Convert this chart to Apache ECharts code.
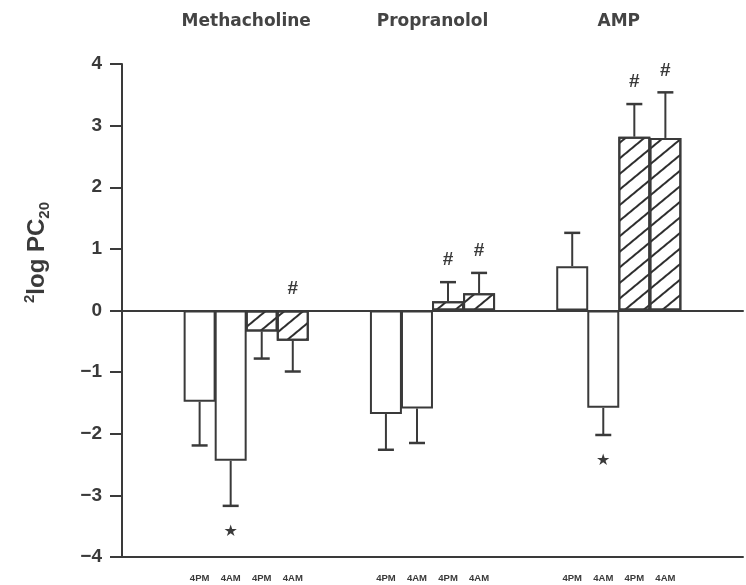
<!DOCTYPE html>
<html>
<head>
<meta charset="utf-8">
<script src="https://cdn.jsdelivr.net/npm/echarts@6/dist/echarts.min.js"></script>
<style>
  html, body { margin: 0; padding: 0; background: #fff; }
  #chart { width: 746px; height: 585px; }
</style>
</head>
<body>
<div id="chart"></div>
<script>
// Challenge agents, group order
const groups = ['Methacholine', 'Propranolol', 'AMP'];
// Time of the challenge for the four bars inside each group
const timeLabels = ['4PM', '4AM', '4PM', '4AM'];

// Mean 2log PC20 per group (open bars, then hatched bars)
const openPM    = [-1.48, -1.68, 0.72];
const openAM    = [-2.44, -1.59, -1.58];
const hatchedPM = [-0.34, 0.15, 2.82];
const hatchedAM = [-0.49, 0.28, 2.80];

// Standard errors
const openPMErr    = [0.71, 0.58, 0.54];
const openAMErr    = [0.73, 0.56, 0.44];
const hatchedPMErr = [0.44, 0.31, 0.53];
const hatchedAMErr = [0.50, 0.33, 0.74];

// Significance markers
const openPMSig    = ['', '', ''];
const openAMSig    = ['\u2605', '', '\u2605'];
const hatchedPMSig = ['', '#', '#'];
const hatchedAMSig = ['#', '#', '#'];

// Y axis ticks
const yTicks = [-4, -3, -2, -1, 0, 1, 2, 3, 4];

const INK = '#3a3a3a';
const FONT = '"Liberation Sans", Arial, sans-serif';
const WIDE_FONT = '"DejaVu Sans", Verdana, sans-serif';

// Each group uses two empty spacer slots followed by its four bars
const SPACER = 2;
const barSets = [
  { vals: openPM,    errs: openPMErr,    sig: openPMSig,    hatched: false },
  { vals: openAM,    errs: openAMErr,    sig: openAMSig,    hatched: false },
  { vals: hatchedPM, errs: hatchedPMErr, sig: hatchedPMSig, hatched: true },
  { vals: hatchedAM, errs: hatchedAMErr, sig: hatchedAMSig, hatched: true }
];

const hatchDecal = {
  symbol: 'rect',
  symbolSize: 1,
  color: '#2e2e2e',
  dashArrayX: [1, 0],
  dashArrayY: [1.4, 10],
  rotation: -Math.PI * 0.22
};

const slots = [];
const barData = [];
const errData = [];
const groupCenters = [];
groups.forEach((g, gi) => {
  for (let s = 0; s < SPACER; s++) { slots.push(''); barData.push(null); }
  groupCenters.push(slots.length + 2);
  barSets.forEach((set, bi) => {
    const idx = slots.length;
    slots.push(timeLabels[bi]);
    const item = {
      value: set.vals[gi],
      itemStyle: { color: '#fff', borderColor: INK, borderWidth: 2 }
    };
    if (set.hatched) item.itemStyle.decal = hatchDecal;
    barData.push(item);
    errData.push([idx, set.vals[gi], set.errs[gi], set.sig[gi]]);
  });
});
for (let s = 0; s < SPACER; s++) { slots.push(''); barData.push(null); }

// Boundary positions for the group titles (one more entry than slots)
const titleSlots = [];
for (let i = 0; i <= slots.length; i++) {
  const gi = groupCenters.indexOf(i);
  titleSlots.push(gi >= 0 ? groups[gi] : '');
}

function renderError(params, api) {
  const x = api.value(0);
  const v = api.value(1);
  const e = api.value(2);
  const mark = errData[params.dataIndex][3];
  const dir = v >= 0 ? 1 : -1;
  const base = api.coord([x, v]);
  const tip = api.coord([x, v + dir * e]);
  const half = 8;
  const children = [
    { type: 'line', shape: { x1: base[0], y1: base[1], x2: tip[0], y2: tip[1] },
      style: { stroke: INK, lineWidth: 2 } },
    { type: 'line', shape: { x1: tip[0] - half, y1: tip[1], x2: tip[0] + half, y2: tip[1] },
      style: { stroke: INK, lineWidth: 2.5 } }
  ];
  if (mark === '#') {
    const top = api.coord([x, Math.max(0, v + dir * e)]);
    children.push({ type: 'text', style: {
      text: '#', x: top[0], y: top[1] - 22, align: 'center', verticalAlign: 'middle',
      fontFamily: FONT, fontWeight: 'bold', fontSize: 19, fill: INK } });
  } else if (mark) {
    children.push({ type: 'text', style: {
      text: mark, x: tip[0], y: tip[1] + 26, align: 'center', verticalAlign: 'middle',
      fontFamily: '"DejaVu Sans", sans-serif', fontSize: 16, fill: INK } });
  }
  return { type: 'group', children };
}

const chart = echarts.init(document.getElementById('chart'), null, { renderer: 'canvas' });
chart.setOption({
  backgroundColor: '#fff',
  animation: false,
  grid: { left: 122, right: 0, top: 64, bottom: 28, containLabel: false },
  xAxis: [
    { // bottom axis with time labels
      type: 'category', data: slots, position: 'bottom',
      axisLine: { onZero: false, lineStyle: { color: INK, width: 2 } },
      axisTick: { show: false },
      axisLabel: { interval: 0, margin: 16, color: INK, fontFamily: FONT,
                   fontWeight: 'bold', fontSize: 9.5 }
    },
    { // zero reference line
      type: 'category', data: slots, position: 'top',
      axisLine: { onZero: true, lineStyle: { color: INK, width: 2 } },
      axisTick: { show: false }, axisLabel: { show: false }
    },
    { // group titles
      type: 'category', data: titleSlots, position: 'top', boundaryGap: false,
      axisLine: { show: false, onZero: false }, axisTick: { show: false },
      axisLabel: {
        interval: 0, margin: 34, color: '#444',
        fontFamily: WIDE_FONT, fontWeight: 'bold', fontSize: 17
      }
    }
  ],
  yAxis: {
    type: 'value', min: yTicks[0], max: yTicks[yTicks.length - 1], interval: 1,
    axisLine: { show: true, lineStyle: { color: INK, width: 2 } },
    axisTick: { show: true, length: 12, lineStyle: { color: INK, width: 2 } },
    splitLine: { show: false },
    axisLabel: {
      margin: 20, color: INK, fontFamily: FONT, fontWeight: 'bold', fontSize: 19,
      formatter: v => String(v).replace('-', '\u2212')
    },
    name: '{sup|2}{main|log PC}{sub|20}',
    nameLocation: 'middle', nameGap: 70, nameRotate: 90,
    nameTextStyle: {
      padding: [0, 0, 0, 116],
      rich: {
        sup: { fontFamily: FONT, fontWeight: 'bold', fontSize: 15, color: INK, verticalAlign: 'top', lineHeight: 30 },
        main: { fontFamily: FONT, fontWeight: 'bold', fontSize: 24, color: INK, lineHeight: 30 },
        sub: { fontFamily: FONT, fontWeight: 'bold', fontSize: 15, color: INK, verticalAlign: 'bottom', lineHeight: 30 }
      }
    }
  },
  series: [
    { type: 'bar', xAxisIndex: 0, data: barData, barWidth: '103%', z: 2 },
    { type: 'custom', xAxisIndex: 0, data: errData.map(d => [d[0], d[1], d[2]]),
      renderItem: renderError, z: 3 }
  ]
});
</script>
</body>
</html>
